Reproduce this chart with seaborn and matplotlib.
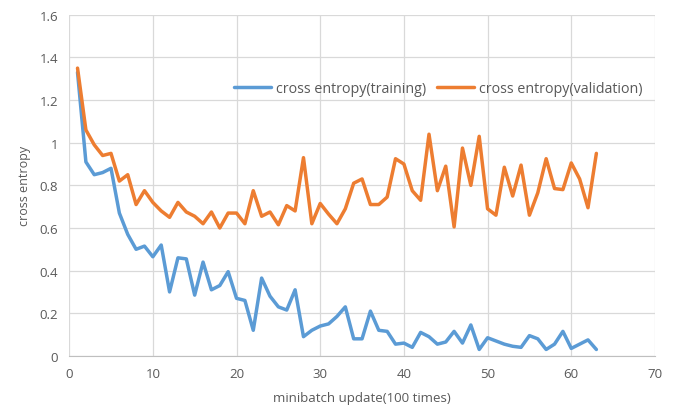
import numpy as np
import pandas as pd
import seaborn as sns
import matplotlib
matplotlib.use('Agg')
import matplotlib.pyplot as plt
from matplotlib.ticker import FuncFormatter

# values, one per minibatch update (1..63)
train_loss = [1.33, 0.91, 0.85, 0.86, 0.88, 0.67, 0.57, 0.50, 0.515, 0.465,
              0.52, 0.30, 0.46, 0.455, 0.285, 0.44, 0.31, 0.33, 0.395, 0.27,
              0.26, 0.12, 0.365, 0.28, 0.23, 0.215, 0.31, 0.09, 0.12, 0.14,
              0.15, 0.185, 0.23, 0.08, 0.08, 0.21, 0.12, 0.115, 0.055, 0.06,
              0.04, 0.11, 0.09, 0.055, 0.065, 0.115, 0.06, 0.145, 0.03, 0.085,
              0.07, 0.055, 0.045, 0.04, 0.095, 0.08, 0.03, 0.055, 0.115, 0.035,
              0.055, 0.075, 0.03]
valid_loss = [1.35, 1.06, 0.99, 0.94, 0.95, 0.82, 0.85, 0.71, 0.775, 0.72,
              0.68, 0.65, 0.72, 0.675, 0.655, 0.62, 0.675, 0.60, 0.67, 0.67,
              0.62, 0.775, 0.655, 0.675, 0.615, 0.705, 0.68, 0.93, 0.62, 0.715,
              0.665, 0.62, 0.69, 0.81, 0.83, 0.71, 0.71, 0.745, 0.925, 0.90,
              0.775, 0.73, 1.04, 0.775, 0.89, 0.605, 0.975, 0.80, 1.03, 0.69,
              0.66, 0.885, 0.75, 0.895, 0.66, 0.765, 0.925, 0.785, 0.78, 0.905,
              0.83, 0.695, 0.95]
updates = list(range(1, len(train_loss) + 1))
series_names = ['cross entropy(training)', 'cross entropy(validation)']

df = pd.DataFrame({
    'update': updates * 2,
    'loss': train_loss + valid_loss,
    'series': [series_names[0]] * len(updates) + [series_names[1]] * len(updates),
})

sns.set_style("white")
plt.rcParams['font.family'] = ['Open Sans', 'DejaVu Sans']

fig, ax = plt.subplots(figsize=(6.78, 4.06), dpi=100)
fig.subplots_adjust(left=0.102, right=0.966, top=0.961, bottom=0.121)

sns.lineplot(data=df, x='update', y='loss', hue='series', hue_order=series_names,
             palette=['#5B9BD5', '#ED7D31'], linewidth=2.5, ax=ax)

ax.set_xlim(0, 70)
ax.set_ylim(0, 1.6)
ax.set_xticks(np.arange(0, 71, 10))
ax.set_yticks(np.arange(0, 1.61, 0.2))
ax.yaxis.set_major_formatter(FuncFormatter(lambda v, p: '%g' % round(v, 1)))
ax.grid(True, color='#D9D9D9', linewidth=0.9)
ax.set_axisbelow(True)
for side in ['top', 'right', 'left']:
    ax.spines[side].set_visible(False)
ax.spines['bottom'].set_color('#BFBFBF')
ax.tick_params(axis='both', length=0, labelsize=9.5, colors='#595959', pad=8)

ax.set_xlabel('minibatch update(100 times)', fontsize=9.5, color='#595959', labelpad=8)
ax.set_ylabel('cross entropy', fontsize=9, color='#595959', labelpad=6)

leg = ax.legend(loc='upper right', bbox_to_anchor=(1.0, 0.843), ncol=2, frameon=False,
                fontsize=10.3, handlelength=2.6, handletextpad=0.3, columnspacing=0.8)
for t in leg.get_texts():
    t.set_color('#595959')

fig.savefig('out.png', dpi=100)
